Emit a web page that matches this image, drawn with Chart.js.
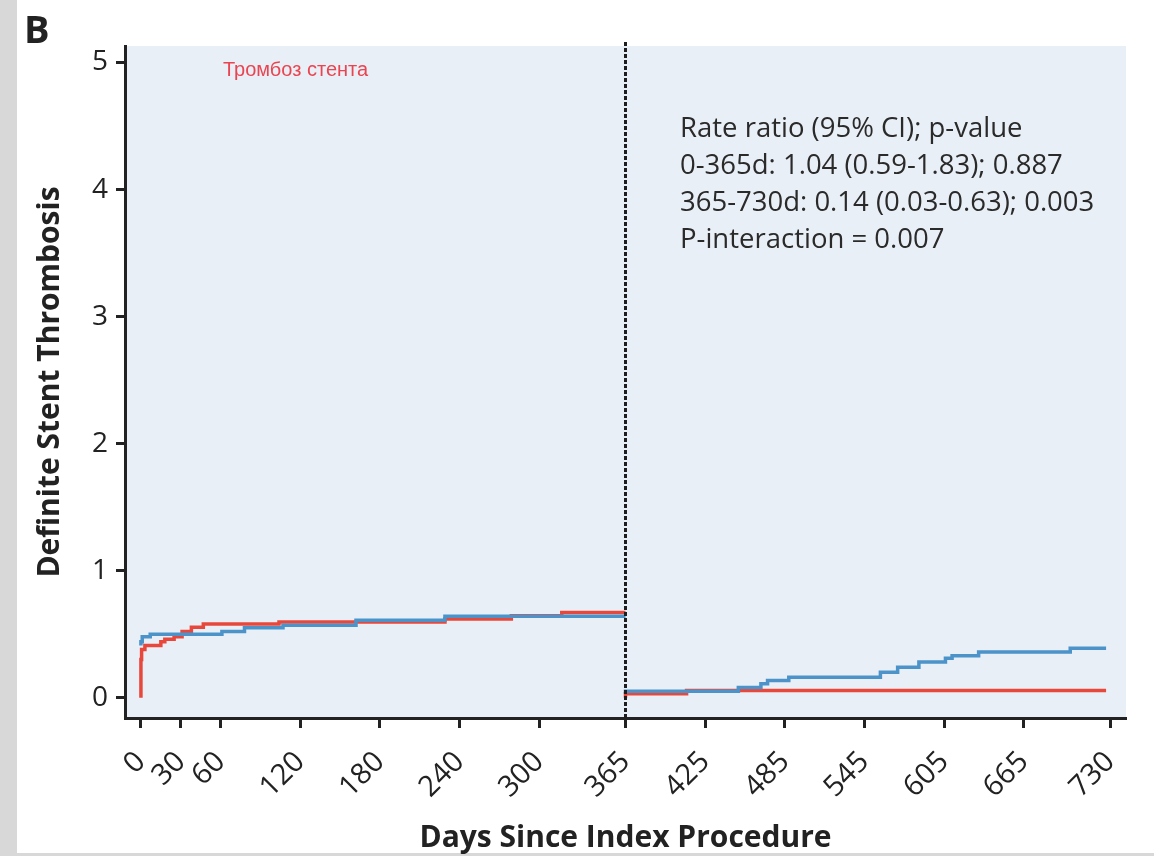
<!DOCTYPE html>
<html>
<head>
<meta charset="utf-8">
<script src="https://cdn.jsdelivr.net/npm/chart.js@4.4.0/dist/chart.umd.min.js"></script>
<style>
  html, body { margin: 0; padding: 0; background: #fff; }
  canvas { display: block; }
</style>
</head>
<body>
<canvas id="stentChart" width="1154" height="856"></canvas>
<script>
// landmark analysis, curves restart at day 365
const blueDaysEarly = [0, 1, 7, 61, 78, 107, 162, 229, 239, 365];
const blueRateEarly = [0.41, 0.44, 0.48, 0.50, 0.52, 0.55, 0.57, 0.61, 0.64, 0.64];
const redDaysEarly = [0, 0.5, 3, 15, 18, 25, 31, 38, 47, 104, 229, 279, 317, 335, 365];
const redRateEarly = [0, 0.30, 0.38, 0.41, 0.44, 0.46, 0.48, 0.52, 0.555, 0.58, 0.595, 0.62, 0.645, 0.67, 0.67];

const blueDaysLate = [365, 450, 467, 472, 488, 557, 570, 586, 606, 611, 631, 700, 716, 727];
const blueRateLate = [0.03, 0.05, 0.08, 0.11, 0.135, 0.16, 0.20, 0.24, 0.28, 0.31, 0.33, 0.36, 0.39, 0.39];
const redDaysLate = [365, 411, 542, 727];
const redRateLate = [0, 0.03, 0.056, 0.056];

const xTickValues = [0, 30, 60, 120, 180, 240, 300, 365, 425, 485, 545, 605, 665, 730];
const yTickValues = [0, 1, 2, 3, 4, 5];
const landmarkDay = 365;

const panelLabel = 'B';
const redLabel = 'Тромбоз стента';
const statLines = [
  'Rate ratio (95% CI); p-value',
  '0-365d: 1.04 (0.59-1.83); 0.887',
  '365-730d: 0.14 (0.03-0.63); 0.003',
  'P-interaction = 0.007'
];

const BLUE = '#4b93c9';
const RED = '#e8483c';
const INK = '#222';

function toPoints(days, rates) {
  return days.map((d, i) => ({ x: d, y: rates[i] }));
}

function stepLine(days, rates, color) {
  return {
    data: toPoints(days, rates),
    borderColor: color,
    borderWidth: 3.5,
    pointRadius: 0,
    showLine: true,
    stepped: 'after',
    fill: false
  };
}

const decorations = {
  id: 'decorations',
  beforeDraw(chart) {
    const { ctx, chartArea: a } = chart;
    ctx.save();
    ctx.fillStyle = '#d8d8d8';
    ctx.fillRect(0, 0, 17, chart.height);
    ctx.fillRect(0, chart.height - 3, chart.width, 3);
    ctx.fillStyle = '#e9eff6';
    ctx.fillRect(a.left, a.top, a.right - a.left, a.bottom - a.top);
    ctx.restore();
  },
  afterDatasetsDraw(chart) {
    const { ctx, chartArea: a } = chart;
    const x = chart.scales.x.getPixelForValue(landmarkDay);
    ctx.save();
    ctx.strokeStyle = '#1e1e1e';
    ctx.lineWidth = 3;
    ctx.setLineDash([4, 2]);
    ctx.beginPath();
    ctx.moveTo(x, a.top - 4);
    ctx.lineTo(x, a.bottom);
    ctx.stroke();
    ctx.restore();
  },
  afterDraw(chart) {
    const { ctx } = chart;
    ctx.save();
    ctx.fillStyle = INK;
    ctx.font = 'bold 38px "Open Sans"';
    ctx.textBaseline = 'alphabetic';
    ctx.fillText(panelLabel, 24, 43);

    ctx.fillStyle = '#ea4450';
    ctx.font = '20px "Liberation Sans"';
    ctx.textBaseline = 'middle';
    ctx.fillText(redLabel, 223, 70);

    ctx.fillStyle = '#2a2a2a';
    ctx.font = '27.5px "Open Sans"';
    statLines.forEach((line, i) => {
      ctx.fillText(line, 680, 129 + i * 37);
    });
    ctx.restore();
  }
};

const ctx = document.getElementById('stentChart').getContext('2d');
new Chart(ctx, {
  type: 'scatter',
  data: {
    datasets: [
      stepLine(blueDaysEarly, blueRateEarly, BLUE),
      stepLine(redDaysEarly, redRateEarly, RED),
      stepLine(blueDaysLate, blueRateLate, BLUE),
      stepLine(redDaysLate, redRateLate, RED)
    ]
  },
  options: {
    responsive: false,
    animation: false,
    layout: { padding: { top: 46, right: 28, left: 0, bottom: 0 } },
    plugins: { legend: { display: false }, tooltip: { enabled: false } },
    scales: {
      x: {
        type: 'linear',
        min: -12,
        max: 742,
        afterBuildTicks: s => { s.ticks = xTickValues.map(v => ({ value: v })); },
        afterFit: s => { s.height = 138; },
        ticks: {
          autoSkip: false,
          minRotation: 45,
          maxRotation: 45,
          padding: 17,
          color: INK,
          font: { family: 'Open Sans', size: 29 },
          callback: v => String(v)
        },
        grid: { drawOnChartArea: false, drawTicks: true, tickLength: 10, tickWidth: 3, tickColor: INK },
        border: { display: true, color: INK, width: 3 },
        title: {
          display: true,
          text: 'Days Since Index Procedure',
          color: INK,
          font: { family: 'Open Sans', size: 30, weight: 'bold' },
          padding: { top: 0, bottom: 0 }
        }
      },
      y: {
        min: -0.16,
        max: 5.13,
        afterBuildTicks: s => { s.ticks = yTickValues.map(v => ({ value: v })); },
        afterFit: s => { s.width = 125; },
        ticks: {
          padding: 8,
          color: INK,
          font: { family: 'Open Sans', size: 28 },
          callback: v => String(v)
        },
        grid: { drawOnChartArea: false, drawTicks: true, tickLength: 9, tickWidth: 3, tickColor: INK },
        border: { display: true, color: INK, width: 3 },
        title: {
          display: true,
          text: 'Definite Stent Thrombosis',
          color: INK,
          font: { family: 'Open Sans', size: 30, weight: 'bold' },
          padding: { top: 32, bottom: 0 }
        }
      }
    }
  },
  plugins: [decorations]
});
</script>
</body>
</html>
